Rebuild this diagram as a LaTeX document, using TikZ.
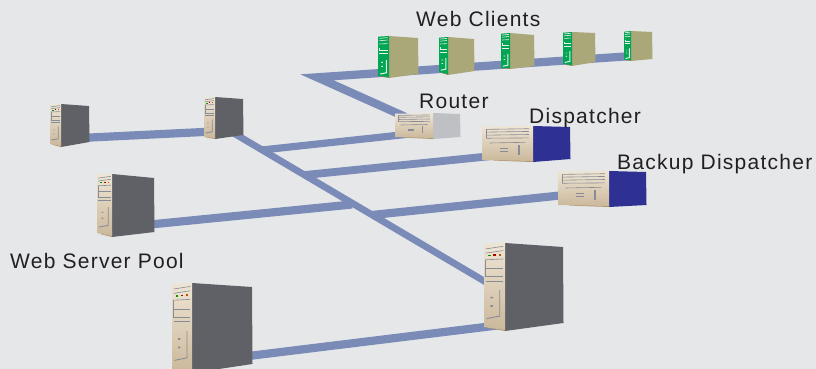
\documentclass[tikz,border=0pt]{standalone}
\usepackage{fontspec}
\newfontfamily\labfont[LetterSpace=6]{Liberation Sans}
\definecolor{bgc}{RGB}{229,231,233}
\definecolor{wirec}{RGB}{122,139,184}
\definecolor{txtc}{RGB}{35,31,32}
\definecolor{graySide}{RGB}{95,97,102}
\definecolor{khaki}{RGB}{170,167,120}
\definecolor{lightGray}{RGB}{190,192,195}
\definecolor{navy}{RGB}{46,48,146}
\definecolor{greenF}{RGB}{0,166,81}
\definecolor{beigeT}{RGB}{238,229,212}
\definecolor{beigeB}{RGB}{203,184,155}
\definecolor{beigeD}{RGB}{176,150,110}
\definecolor{panel}{RGB}{135,140,150}
\tikzset{
  wire/.style={draw=wirec,line width=#1,line join=miter,miter limit=12},
  wire/.default=8.2,
  lab/.style={anchor=base west,inner sep=0pt,text=txtc,font=\labfont\fontsize{21}{24}\selectfont},
  compbox/.style={inner sep=0pt,outer sep=0pt},
  det/.style={draw=panel,line width=0.6pt},
  detw/.style={draw=white!85!panel,line width=0.6pt}
}
% detail drawings live in a unit square laid over the front face
\newcommand{\towerdetail}{%
  \draw[det] (.08,.07)--(.92,.04) (.08,.12)--(.92,.09) (.08,.2)--(.92,.19);
  \fill[green!60!black] (.2,.14) rectangle (.32,.16);
  \fill[red!70!black] (.45,.135) rectangle (.57,.155);
  \fill[orange!70!black] (.7,.13) rectangle (.82,.15);
  \draw[det] (.08,.2)--(.08,.4)--(.92,.4) (.08,.3)--(.92,.3);
  \draw[det] (.08,.45)--(.92,.45);
  \draw[det,line width=.9pt] (.75,.56)--(.75,.87)--(.12,.9);
  \fill[panel] (.3,.64) rectangle (.42,.66) (.3,.74) rectangle (.42,.76);
}
\newcommand{\desktopdetail}{%
  \draw[det] (.08,.1)--(.92,.08) (.08,.18)--(.92,.16) (.08,.27)--(.92,.25) (.08,.36)--(.92,.35);
  \draw[det] (.08,.1)--(.08,.36);
  \draw[det] (.15,.5)--(.85,.48);
  \draw[det,line width=1.6pt] (.72,.55)--(.72,.85);
  \draw[det] (.35,.66)--(.5,.66) (.35,.74)--(.5,.74);
}
\newcommand{\clientdetail}{%
  \draw[detw] (.12,.06)--(.88,.04) (.12,.12)--(.88,.1) (.12,.2)--(.88,.19);
  \draw[detw] (.12,.3)--(.12,.36)--(.88,.36) (.12,.44)--(.88,.44);
  \draw[detw,line width=1pt] (.75,.6)--(.75,.92)--(.2,.95);
  \fill[white] (.3,.65) rectangle (.45,.67) (.3,.75) rectangle (.45,.77);
}
% name, x-left, x-seam, x-right, y-top, y-top-right, y-bottom-right, y-seam-bottom, y-front-bottom
\newcommand{\computer}[9]{%
  \pgfmathsetmacro\compW{#4-#2}\pgfmathsetmacro\compH{#8-#5}%
  \pgfmathsetmacro\compX{(#4+#2)/2}\pgfmathsetmacro\compY{(#8+#5)/2}%
  \pgfmathsetmacro\faceW{#3-#2}\pgfmathsetmacro\faceH{#9-#5}%
  \node[compbox,minimum width=\compW pt,minimum height=\compH pt] (#1) at (\compX,\compY) {};
  \fill[\compside] (#3,#5) -- (#4,#6) -- (#4+.5,#7) -- (#3,#8) -- cycle;
  \fill[\compbase] (#2+.1*\faceW,#9-1) -- (#3,#9-1) -- (#3,#8) -- (#2+.25*\faceW,#9+.3*#8-.3*#9) -- cycle;
  \ifx\compshade\empty
    \fill[\compfront] (#2,#5+.7) -- (#3,#5) -- (#3,#8-1) -- (#2,#9) -- cycle;
  \else
    \shade[top color=beigeT,bottom color=beigeB] (#2,#5+.7) -- (#3,#5) -- (#3,#8-1) -- (#2,#9) -- cycle;
  \fi
  \begin{scope}[shift={(#2,#5)},xscale=\faceW,yscale=\faceH]
    \compdetail
  \end{scope}
}
\newcommand{\setcomp}[5]{\def\compside{#1}\def\compbase{#2}\def\compfront{#3}\def\compshade{#4}\let\compdetail#5}
\begin{document}
\begin{tikzpicture}[x=1pt,y=-1pt]
\clip (0,0) rectangle (816,369);
\fill[bgc] (0,0) rectangle (816,369);
% connector ends, hidden behind the computers
\coordinate (c5port) at (640,55.5);
\coordinate (bend) at (317,77.3);
\coordinate (routerUp) at (410,119);
\coordinate (routerPort) at (410,134);
\coordinate (jRouter) at (262,150);
\coordinate (dispPort) at (500,155.2);
\coordinate (jDisp) at (305,175);
\coordinate (s3port) at (130,226.5);
\coordinate (jS3) at (352,204.5);
\coordinate (jBackup) at (372,215);
\coordinate (backupPort) at (590,192.4);
\coordinate (s1port) at (70,138.5);
\coordinate (s2port) at (224,131);
\coordinate (s2diag) at (230,131);
\coordinate (s5diag) at (500,290.4);
\coordinate (s4port) at (220,359.5);
\coordinate (s5port) at (520,322.7);
% connectors
\draw[wire] (c5port) -- (bend) -- (routerUp);
\draw[wire=7.2] (routerPort) -- (jRouter);
\draw[wire=7.8] (dispPort) -- (jDisp);
\draw[wire=8.2] (s3port) -- (jS3);
\draw[wire=8.2] (jBackup) -- (backupPort);
\draw[wire=8.2] (s1port) -- (s2port);
\draw[wire=6.8] (s2diag) -- (s5diag);
\draw[wire=8.2] (s4port) -- (s5port);
% computers
\setcomp{khaki}{khaki!80!black}{greenF}{}{\clientdetail}
\computer{client1}{378}{389}{418}{36}{38}{74}{78}{76}
\computer{client2}{439}{448}{474}{37}{39}{71}{75}{72}
\computer{client3}{501}{510}{534}{33}{35}{66}{69}{68}
\computer{client4}{563}{572}{595}{32}{33}{62}{66}{64}
\computer{client5}{624}{631}{652}{31}{32}{59}{61}{60}
\setcomp{lightGray}{beigeD}{beigeT}{x}{\desktopdetail}
\computer{router}{395}{433}{460}{113}{114}{137}{139}{137}
\setcomp{navy}{beigeD}{beigeT}{x}{\desktopdetail}
\computer{dispatcher}{482}{533}{570}{126}{127}{159}{162}{160}
\computer{backup}{558}{609}{646}{171}{172}{205}{207}{205}
\setcomp{graySide}{beigeD}{beigeT}{x}{\towerdetail}
\computer{s1}{50}{61}{89}{104}{106}{142}{147}{144}
\computer{s2}{204}{215}{243}{97}{99}{135}{139}{137}
\computer{s3}{97}{112}{154}{174}{178}{232}{237}{233}
\computer{s4}{172}{192}{252}{283}{287}{364}{373}{369}
\computer{s5}{484}{505}{563}{243}{247}{323}{331}{327}
% labels
\node[lab] (lclients) at (416,26.7) {Web Clients};
\node[lab] (lrouter) at (419,108) {Router};
\node[lab] (ldisp) at (529,123.3) {Dispatcher};
\node[lab] (lbackup) at (617,169) {Backup Dispatcher};
\node[lab] (lpool) at (10,268) {Web Server Pool};
\end{tikzpicture}
\end{document}
